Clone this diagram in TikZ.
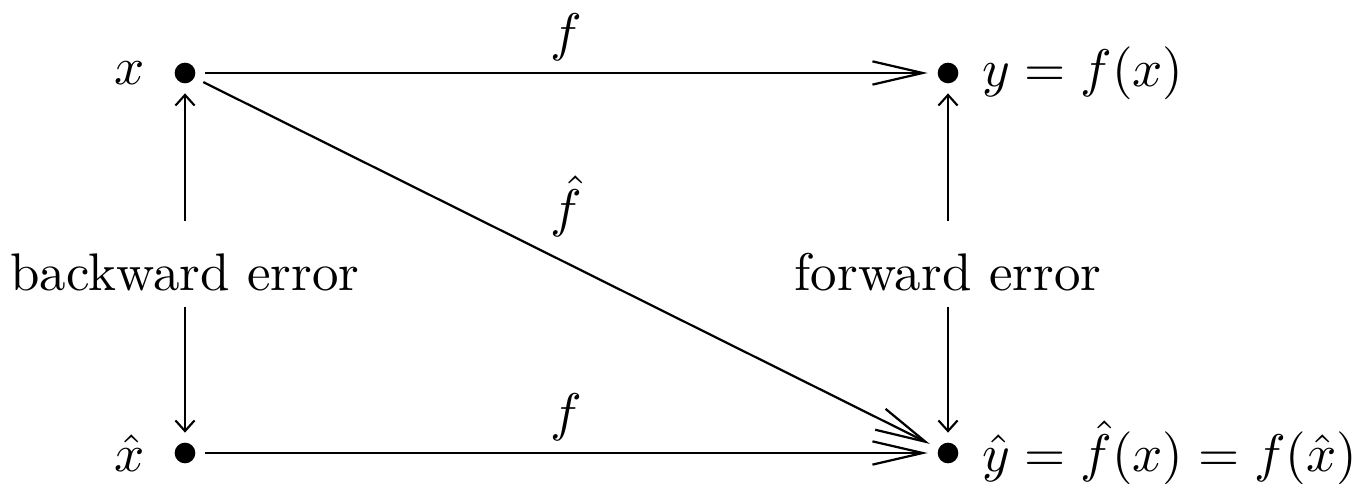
\documentclass[tikz,border=0pt]{standalone}
\usetikzlibrary{arrows.meta}
\begin{document}
\begin{tikzpicture}[x=0.189pt,y=-0.189pt,
  dot/.style={circle,fill=black,inner sep=0pt,minimum size=3.9pt,outer sep=1.9pt},
  lbl/.style={inner sep=0pt},
  flbl/.style={inner sep=0pt,above=2.1pt},
  longarr/.style={line width=0.42pt,-{Straight Barb[length=9.5pt,width=4.4pt]}},
  shortarr/.style={line width=0.4pt,-{Straight Barb[length=2pt,width=3.6pt]}}]
\useasboundingbox (0,0) rectangle (1360,484);
\node[dot] (x) at (185,73) {};
\node[dot] (y) at (948,73) {};
\node[dot] (xh) at (185,453) {};
\node[dot] (yh) at (948,453) {};
\node[lbl,anchor=east] (xl) at (146,73) {$x$};
\node[lbl,anchor=east] (xhl) at (146,453) {$\hat{x}$};
\node[lbl,anchor=west] (yl) at (981,73) {$y = f(x)$};
\node[lbl,anchor=west] (yhl) at (981,453) {$\hat{y} = \hat{f}(x) = f(\hat{x})$};
\node[lbl] (be) at (185,272) {backward error};
\node[lbl] (fe) at (948,272) {forward error};
\coordinate (bt) at (185,221);
\coordinate (bb) at (185,307);
\coordinate (ft) at (948,221);
\coordinate (fb) at (948,307);
\draw[longarr] (x) -- node[flbl] (f1) {$f$} (y);
\draw[longarr] (xh) -- node[flbl] (f2) {$f$} (yh);
\draw[longarr] (x) -- node[pos=0.5,inner sep=0pt,above=4.7pt] (f3) {$\hat{f}$} (yh);
\draw[shortarr] (bt) -- (x);
\draw[shortarr] (bb) -- (xh);
\draw[shortarr] (ft) -- (y);
\draw[shortarr] (fb) -- (yh);
\end{tikzpicture}
\end{document}
